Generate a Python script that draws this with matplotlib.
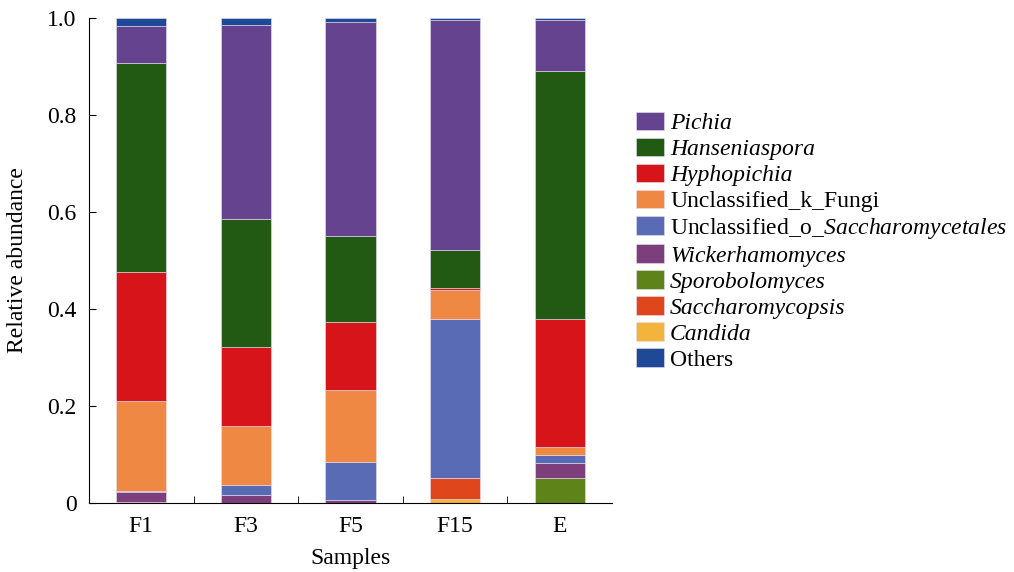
import matplotlib
matplotlib.use('Agg')
import matplotlib.pyplot as plt
import numpy as np

plt.rcParams['font.family'] = 'Liberation Serif'
plt.rcParams['mathtext.fontset'] = 'custom'
plt.rcParams['mathtext.rm'] = 'Liberation Serif'
plt.rcParams['mathtext.it'] = 'Liberation Serif:italic'

samples = ['F1', 'F3', 'F5', 'F15', 'E']

# stack order, bottom to top
taxa = ['Candida', 'Saccharomycopsis', 'Sporobolomyces', 'Wickerhamomyces',
        'Unclassified_o_$\\mathit{Saccharomycetales}$', 'Unclassified_k_Fungi',
        'Hyphopichia', 'Hanseniaspora', 'Pichia', 'Others']
italic = [True, True, True, True, False, False, True, True, True, False]
colors = ['#f2b43a', '#e0461b', '#5e8319', '#7c3f7b', '#5a6bb5', '#ef8842',
          '#d7141a', '#235a13', '#65438f', '#1f4896']

candida = [0.002, 0.0, 0.0, 0.009, 0.0]
saccharomycopsis = [0.0, 0.0, 0.0, 0.043, 0.0]
sporobolomyces = [0.0, 0.0, 0.0, 0.0, 0.052]
wickerhamomyces = [0.020, 0.016, 0.006, 0.0, 0.030]
unclassified_o = [0.002, 0.021, 0.079, 0.327, 0.017]
unclassified_k = [0.186, 0.122, 0.148, 0.061, 0.016]
hyphopichia = [0.267, 0.163, 0.140, 0.003, 0.264]
hanseniaspora = [0.430, 0.264, 0.178, 0.079, 0.511]
pichia = [0.077, 0.400, 0.441, 0.474, 0.106]
others = [0.016, 0.014, 0.008, 0.004, 0.004]

values = [candida, saccharomycopsis, sporobolomyces, wickerhamomyces,
          unclassified_o, unclassified_k, hyphopichia, hanseniaspora,
          pichia, others]

fs = 17

fig = plt.figure(figsize=(10.14, 5.72), dpi=100)
ax = fig.add_axes([0.0878, 0.1206, 0.5158, 0.848])

x = np.arange(len(samples))
bottom = np.zeros(len(samples))
handles = []
for name, vals, col in zip(taxa, values, colors):
    b = ax.bar(x, vals, 0.48, bottom=bottom, color=col, label=name,
               edgecolor='#e8e0f0', linewidth=0.4)
    handles.append(b)
    bottom += np.array(vals)

ax.set_xlim(-0.5, 4.5)
ax.set_ylim(0, 1.0)
ax.set_xticks(x)
ax.set_xticklabels(samples, fontsize=fs)
ax.set_xticks(x[:-1] + 0.5, minor=True)
ax.tick_params(axis='x', which='major', length=0, pad=9)
ax.tick_params(axis='x', which='minor', direction='in', length=5)
ax.set_yticks([0, 0.2, 0.4, 0.6, 0.8, 1.0])
ax.set_yticklabels(['0', '0.2', '0.4', '0.6', '0.8', '1.0'], fontsize=fs)
ax.tick_params(axis='y', direction='in', length=5, pad=9)
ax.spines['top'].set_visible(False)
ax.spines['right'].set_visible(False)
ax.set_xlabel('Samples', fontsize=fs, labelpad=8)
ax.set_ylabel('Relative abundance', fontsize=fs, labelpad=14)

# legend order: Pichia ... Candida, then Others
order = [8, 7, 6, 5, 4, 3, 2, 1, 0, 9]
leg = fig.legend([handles[i] for i in order], [taxa[i] for i in order],
                 loc='upper left', bbox_to_anchor=(0.627, 0.805),
                 frameon=False, fontsize=fs, handlelength=1.2,
                 handleheight=0.85, labelspacing=0.145, handletextpad=0.25,
                 borderpad=0, borderaxespad=0)
for t, i in zip(leg.get_texts(), order):
    if italic[i]:
        t.set_style('italic')

fig.savefig('out.png', dpi=100)
